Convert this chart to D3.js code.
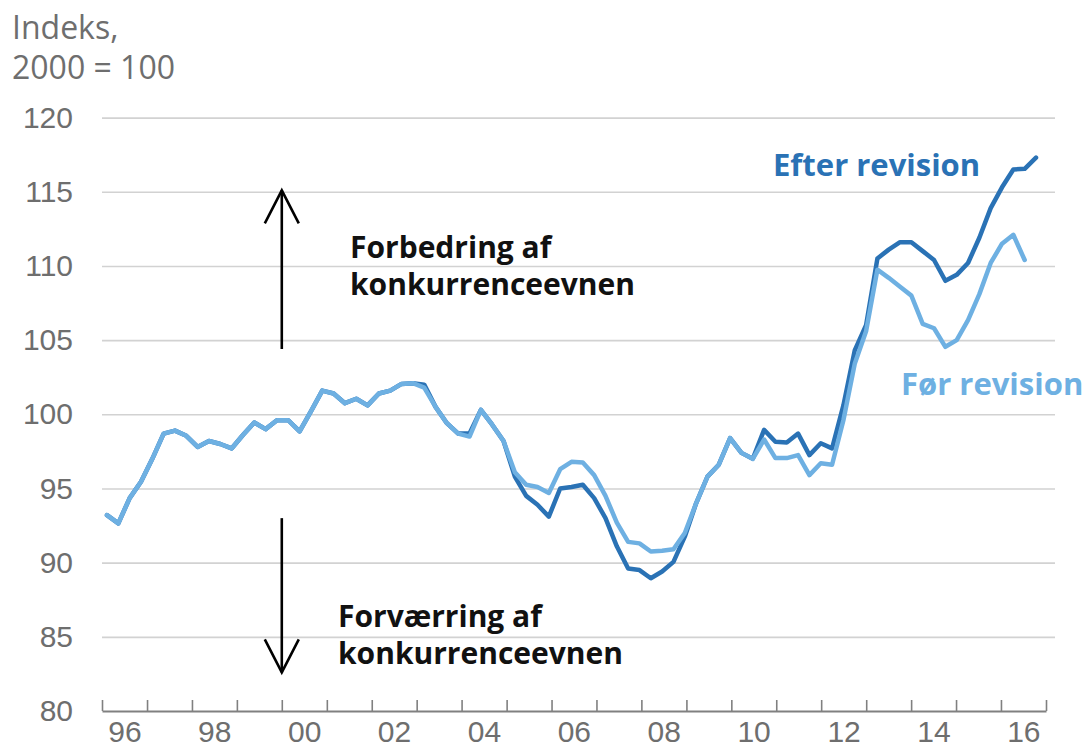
<!DOCTYPE html>
<html>
<head>
<meta charset="utf-8">
<script src="https://cdn.jsdelivr.net/npm/d3@7"></script>
<style>
  body { margin: 0; background: #fff; }
  svg { font-family: "Open Sans", sans-serif; }
</style>
</head>
<body>
<svg width="1091" height="751"></svg>
<script>
/* global d3 */
var firstYear = 1996,
    lastYear = 2016;

var yTicks = [80, 85, 90, 95, 100, 105, 110, 115, 120];
var xLabelYears = [1996, 1998, 2000, 2002, 2004, 2006, 2008, 2010, 2012, 2014, 2016];

// Efter revision, kvartaler fra 1996K1 til 2016K3
var efter = [
  93.2, 92.65, 94.35, 95.45,   // 1996
  97.0, 98.7, 98.9, 98.55,     // 1997
  97.8, 98.2, 98.0, 97.7,      // 1998
  98.6, 99.45, 99.0, 99.6,     // 1999
  99.6, 98.85, 100.2, 101.6,   // 2000
  101.4, 100.75, 101.05, 100.6,// 2001
  101.4, 101.6, 102.05, 102.1, // 2002
  102.0, 100.5, 99.4, 98.7,    // 2003
  98.7, 100.3, 99.3, 98.2,     // 2004
  95.8, 94.5, 93.9, 93.1,      // 2005
  95.0, 95.1, 95.25, 94.35,    // 2006
  93.0, 91.1, 89.6, 89.5,      // 2007
  88.95, 89.4, 90.05, 91.75,   // 2008
  94.0, 95.8, 96.6, 98.4,      // 2009
  97.4, 97.0, 98.95, 98.15,    // 2010
  98.1, 98.7, 97.25, 98.05,    // 2011
  97.7, 100.6, 104.3, 106.0,   // 2012
  110.5, 111.1, 111.6, 111.6,  // 2013
  111.0, 110.4, 109.0, 109.4,  // 2014
  110.2, 111.9, 113.9, 115.3,  // 2015
  116.5, 116.55, 117.3         // 2016
];

// Før revision, 1996K1 til 2016K2
var foer = [
  93.2, 92.65, 94.35, 95.45,
  97.0, 98.7, 98.9, 98.55,
  97.8, 98.2, 98.0, 97.7,
  98.6, 99.45, 99.0, 99.6,
  99.6, 98.85, 100.2, 101.6,
  101.4, 100.75, 101.05, 100.6,
  101.4, 101.6, 102.05, 102.1,
  101.8, 100.5, 99.4, 98.7,
  98.5, 100.3, 99.3, 98.2,
  96.1, 95.25, 95.1, 94.7,
  96.3, 96.8, 96.75, 95.9,
  94.5, 92.7, 91.4, 91.3,
  90.75, 90.8, 90.9, 92.0,
  94.0, 95.8, 96.6, 98.4,
  97.4, 97.0, 98.3, 97.05,
  97.05, 97.25, 95.9, 96.7,
  96.6, 99.6, 103.4, 105.6,
  109.75, 109.2, 108.6, 108.0,
  106.1, 105.8, 104.55, 105.0,
  106.35, 108.1, 110.2, 111.5,
  112.1, 110.4
];

// kvartalsnavne (kategorier)
var quarters = efter.map(function(d, i) {
  return (firstYear + Math.floor(i / 4)) + "K" + (i % 4 + 1);
});

var svg = d3.select("svg"),
    plotLeft = 102, plotRight = 1046, gridRight = 1055,
    plotTop = 117.6, plotBottom = 711;

var x = d3.scaleTime()
    .domain([new Date(firstYear, 0, 1), new Date(lastYear + 1, 0, 1)])
    .range([plotLeft, plotRight]);
// kategori-akse for kvartalerne
var xq = d3.scalePoint().domain(quarters).range([107, 1036]);
var y = d3.scaleLinear().domain([80, 120]).range([plotBottom, plotTop]);

var grey = "#6e6e6e";

// gitterlinjer + y-akse
var yAxis = svg.append("g")
    .attr("transform", "translate(" + plotLeft + ",0)")
    .call(d3.axisLeft(y).tickValues(yTicks).tickSize(-(gridRight - plotLeft)).tickPadding(29));
yAxis.select(".domain").remove();
yAxis.selectAll(".tick line")
    .attr("stroke", "#d2d2d2")
    .attr("stroke-width", 1.6)
    .filter(function(d) { return d === 80; }).remove();
yAxis.selectAll(".tick text")
    .attr("fill", grey)
    .style("font-size", "30px");

// x-akse: streger ved årsskifte
var xAxis = svg.append("g")
    .attr("transform", "translate(0," + plotBottom + ")")
    .call(d3.axisBottom(x).ticks(d3.timeYear.every(1)).tickSize(-11).tickSizeOuter(0).tickFormat(""));
xAxis.select(".domain").attr("stroke", "#808080").attr("stroke-width", 1.8);
xAxis.selectAll(".tick line").attr("stroke", "#808080").attr("stroke-width", 1.6);

// x-etiketter midt i året
var xLab = svg.append("g")
    .attr("transform", "translate(0," + plotBottom + ")")
    .call(d3.axisBottom(x)
      .tickValues(xLabelYears.map(function(yr) { return new Date(yr, 6, 1); }))
      .tickSize(0).tickPadding(10)
      .tickFormat(d3.timeFormat("%y")));
xLab.select(".domain").remove();
xLab.selectAll(".tick text")
    .attr("fill", grey)
    .style("font-size", "30px");

// linjer
var line = d3.line()
    .x(function(d, i) { return xq(quarters[i]); })
    .y(function(d) { return y(d); });

svg.append("path")
    .datum(efter)
    .attr("fill", "none")
    .attr("stroke", "#2a72b5")
    .attr("stroke-width", 4.5)
    .attr("stroke-linejoin", "round")
    .attr("stroke-linecap", "round")
    .attr("d", line);

svg.append("path")
    .datum(foer)
    .attr("fill", "none")
    .attr("stroke", "#6eb0e2")
    .attr("stroke-width", 4.5)
    .attr("stroke-linejoin", "round")
    .attr("stroke-linecap", "round")
    .attr("d", line);

// y-akse titel
svg.append("text").attr("x", 12).attr("y", 39).attr("fill", grey)
    .style("font-size", "32px").text("Indeks,");
svg.append("text").attr("x", 12).attr("y", 79).attr("fill", grey)
    .style("font-size", "32px").text("2000 = 100");

// serienavne
svg.append("text").attr("x", 773).attr("y", 176).attr("fill", "#2a72b5")
    .style("font-size", "31px").style("font-weight", "bold").text("Efter revision");
svg.append("text").attr("x", 901).attr("y", 395).attr("fill", "#6eb0e2")
    .style("font-size", "31px").style("font-weight", "bold").text("Før revision");

// pile
var arrowX = x(new Date(2000, 0, 1));
function arrow(y0, y1) {
  var tip = y(y1), dir = y1 > y0 ? 1 : -1;
  svg.append("line")
      .attr("x1", arrowX).attr("x2", arrowX)
      .attr("y1", y(y0)).attr("y2", tip)
      .attr("stroke", "#000").attr("stroke-width", 2.6);
  svg.append("path")
      .attr("d", "M" + (arrowX - 17) + "," + (tip + dir * 33) + "L" + arrowX + "," + tip + "L" + (arrowX + 17) + "," + (tip + dir * 33))
      .attr("fill", "none").attr("stroke", "#000").attr("stroke-width", 2.6);
}
arrow(104.4, 115.1);
arrow(93.0, 82.6);

// forklarende tekst
function label(xp, yp, lines) {
  var t = svg.append("text").attr("x", xp).attr("fill", "#111")
      .style("font-size", "30px").style("font-weight", "bold");
  lines.forEach(function(s, i) {
    t.append("tspan").attr("x", xp).attr("y", yp + i * 37).text(s);
  });
}
label(350, 258, ["Forbedring af", "konkurrenceevnen"]);
label(338, 627, ["Forværring af", "konkurrenceevnen"]);
</script>
</body>
</html>
